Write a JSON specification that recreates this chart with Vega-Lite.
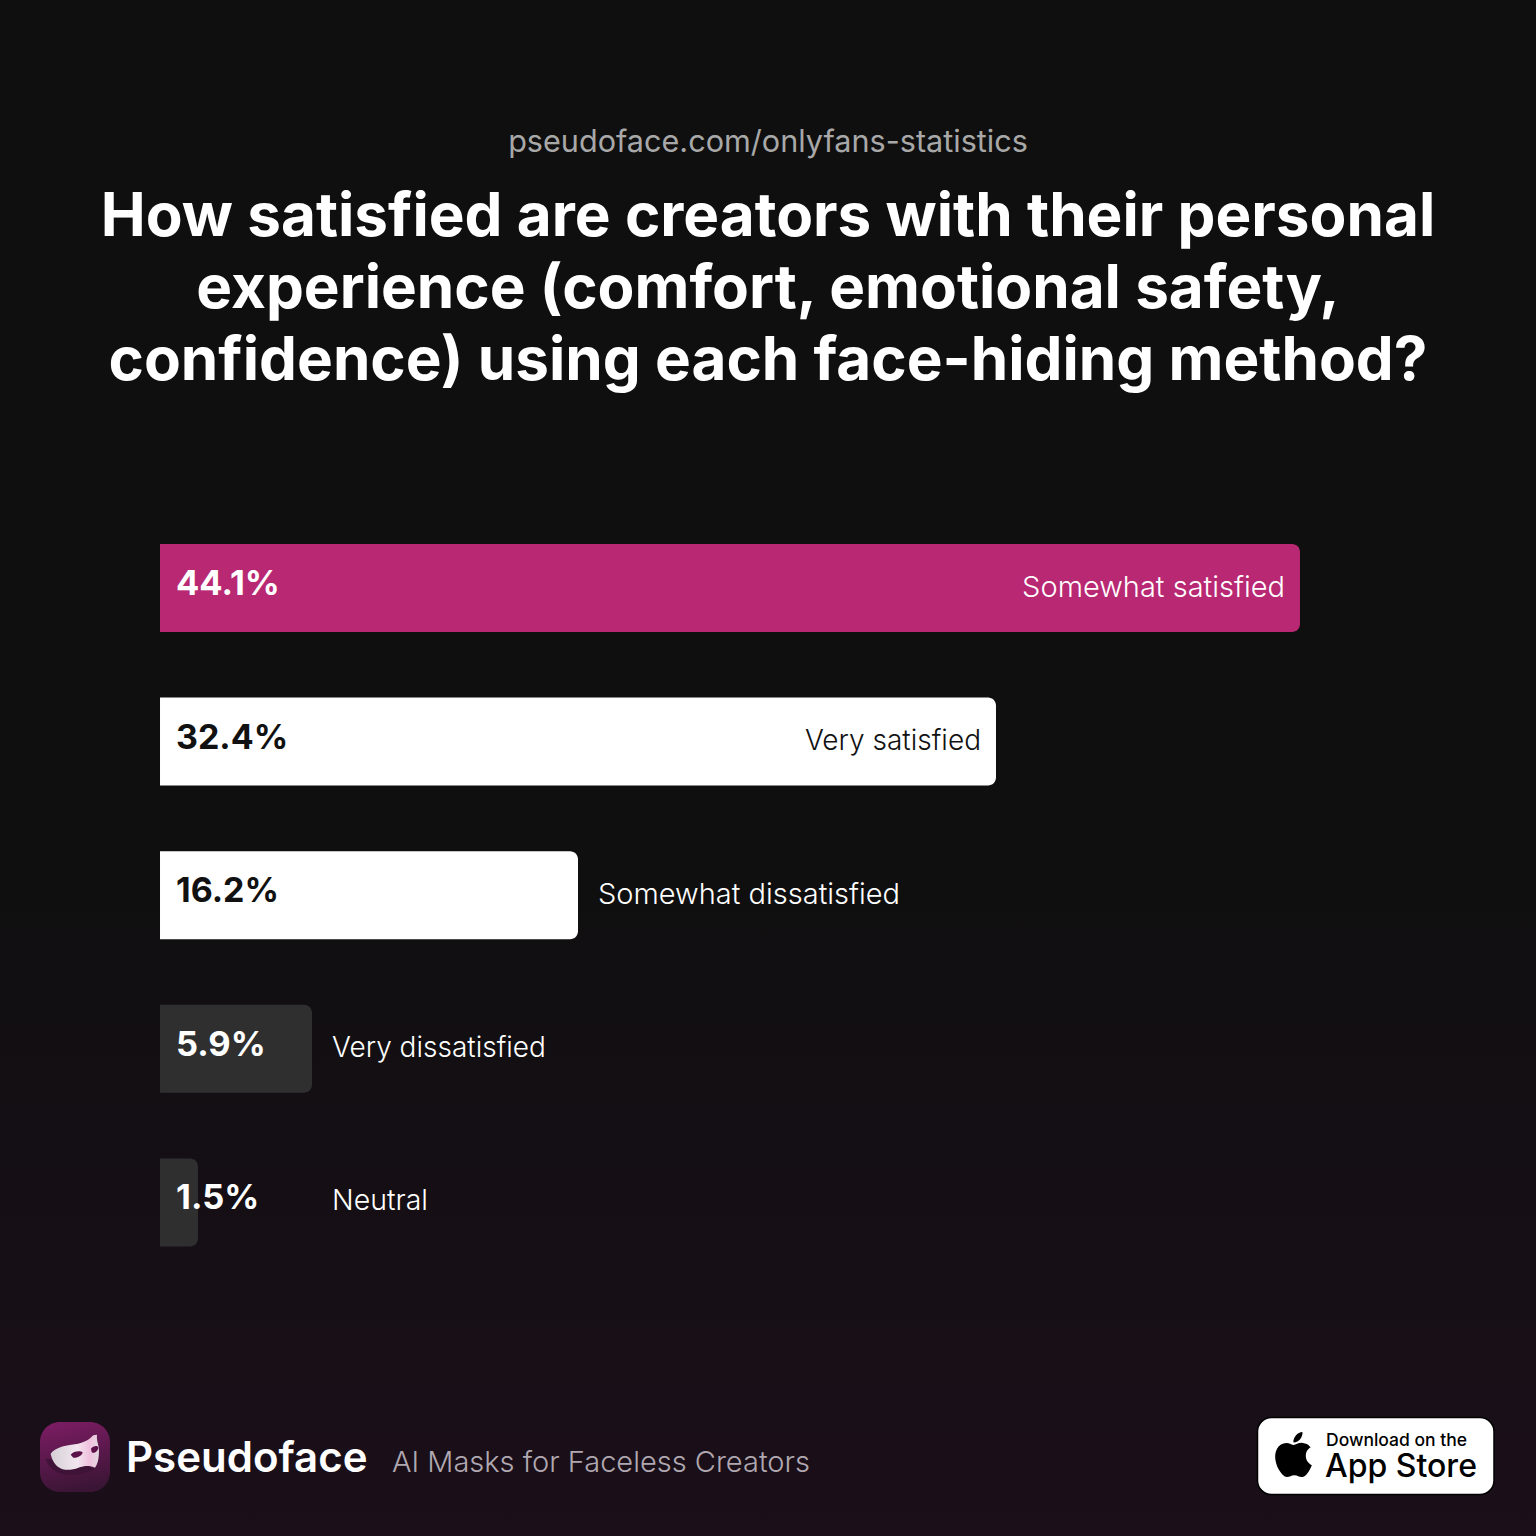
{
"$schema":"https://vega.github.io/schema/vega-lite/v6.json",
"width":1536,"height":1536,"padding":0,"autosize":{"type":"none"},
"background":"#0f0f0f",
"view":{"stroke":null},
"title":{"text":"pseudoface.com/onlyfans-statistics","subtitle":["How satisfied are creators with their personal","experience (comfort, emotional safety,","confidence) using each face-hiding method?"],"anchor":"middle","frame":"group","orient":"top","offset":-416,"baseline":"alphabetic","font":"Inter","fontSize":30.6,"fontWeight":400,"color":"#a8a8a8","subtitleFont":"Inter","subtitleFontSize":60.2,"subtitleFontWeight":700,"subtitleColor":"#ffffff","subtitleLineHeight":72,"subtitlePadding":53},
"resolve":{"scale":{"x":"independent","y":"independent"}},
"layer":[
{"data":{"values":[{"page":"background"}]},
 "mark":{"type":"rect","color":{"gradient":"linear","x1":0,"y1":0,"x2":0,"y2":1,"stops":[{"offset":0,"color":"#0f0f0f"},{"offset":0.55,"color":"#0f0f0f"},{"offset":1,"color":"#1b0f1a"}]}},
 "encoding":{"x":{"datum":0,"type":"quantitative","scale":{"domain":[0,1536],"range":[0,1536]},"axis":null},"x2":{"datum":1536},"y":{"datum":0,"type":"quantitative","scale":{"domain":[0,1536],"range":[0,1536]},"axis":null},"y2":{"datum":1536}}},
{"data":{"values":[
{"answer":"Somewhat satisfied","share":44.1,"shareLabel":"44.1%"},
{"answer":"Very satisfied","share":32.34,"shareLabel":"32.4%"},
{"answer":"Somewhat dissatisfied","share":16.17,"shareLabel":"16.2%"},
{"answer":"Very dissatisfied","share":5.88,"shareLabel":"5.9%"},
{"answer":"Neutral","share":1.47,"shareLabel":"1.5%"}]},
 "encoding":{
 "x":{"field":"share","type":"quantitative","scale":{"domain":[-6.19,53.23],"range":[0,1536],"nice":false,"zero":false},"axis":null},
 "y":{"field":"answer","type":"nominal","sort":null,"scale":{"domain":["Somewhat satisfied","Very satisfied","Somewhat dissatisfied","Very dissatisfied","Neutral"],"range":[544,1246.4],"paddingInner":0.427,"paddingOuter":0},"axis":null}},
 "layer":[
 {"mark":{"type":"bar","cornerRadiusTopRight":8,"cornerRadiusBottomRight":8},
  "encoding":{"x2":{"datum":0},"color":{"field":"answer","type":"nominal","legend":null,"scale":{"domain":["Somewhat satisfied","Very satisfied","Somewhat dissatisfied","Very dissatisfied","Neutral"],"range":["#b92873","#ffffff","#ffffff","#2f2f2f","#2f2f2f"]}}}},
 {"transform":[{"filter":"datum.answer!='Very satisfied' && datum.answer!='Somewhat dissatisfied'"}],
  "mark":{"type":"text","align":"left","baseline":"middle","dx":16,"dy":-3,"font":"Inter","fontSize":34.5,"fontWeight":700,"color":"#ffffff"},
  "encoding":{"x":{"datum":0},"text":{"field":"shareLabel"}}},
 {"transform":[{"filter":"datum.answer=='Very satisfied' || datum.answer=='Somewhat dissatisfied'"}],
  "mark":{"type":"text","align":"left","baseline":"middle","dx":16,"dy":-3,"font":"Inter","fontSize":34,"fontWeight":700,"color":"#111111"},
  "encoding":{"x":{"datum":0},"text":{"field":"shareLabel"}}},
 {"transform":[{"filter":"datum.answer=='Somewhat satisfied'"}],
  "mark":{"type":"text","align":"right","baseline":"middle","dx":-15,"dy":0,"font":"Inter","fontSize":29,"fontWeight":300,"color":"#ffffff"},
  "encoding":{"text":{"field":"answer"}}},
 {"transform":[{"filter":"datum.answer=='Very satisfied'"}],
  "mark":{"type":"text","align":"right","baseline":"middle","dx":-15,"dy":0,"font":"Inter","fontSize":28,"fontWeight":300,"color":"#111111"},
  "encoding":{"text":{"field":"answer"}}},
 {"transform":[{"filter":"datum.answer=='Somewhat dissatisfied'"}],
  "mark":{"type":"text","align":"left","baseline":"middle","dx":20,"dy":0,"font":"Inter","fontSize":29,"fontWeight":300,"color":"#ffffff"},
  "encoding":{"text":{"field":"answer"}}},
 {"transform":[{"filter":"datum.answer=='Very dissatisfied'"}],
  "mark":{"type":"text","align":"left","baseline":"middle","dx":20,"dy":0,"font":"Inter","fontSize":28,"fontWeight":300,"color":"#ffffff"},
  "encoding":{"text":{"field":"answer"}}},
 {"transform":[{"filter":"datum.answer=='Neutral'"}],
  "mark":{"type":"text","align":"left","baseline":"middle","dx":134,"dy":-1,"font":"Inter","fontSize":28.5,"fontWeight":300,"color":"#ffffff"},
  "encoding":{"text":{"field":"answer"}}}
 ]},
{"data":{"values":[{"item":"footer"}]},
 "encoding":{
  "x":{"datum":0,"type":"quantitative","scale":{"domain":[0,1536],"range":[0,1536]},"axis":null},
  "y":{"datum":0,"type":"quantitative","scale":{"domain":[0,1536],"range":[0,1536]},"axis":null}},
 "layer":[
 {"mark":{"type":"rect","cornerRadius":20,"color":{"gradient":"linear","x1":0.3,"y1":0,"x2":0.5,"y2":1,"stops":[{"offset":0,"color":"#7a1c62"},{"offset":1,"color":"#3a1535"}]}},
  "encoding":{"x":{"datum":40},"x2":{"datum":110},"y":{"datum":1422},"y2":{"datum":1492}}},
 {"mark":{"type":"point","filled":true,"opacity":1,"stroke":null,"fill":"#3f1238","size":0.444,"shape":"M32 125 C36 145 60 172 105 174 C130 174 160 165 182 155 L182 145 L60 130 Z"},
  "encoding":{"x":{"datum":35},"y":{"datum":1417}}},
 {"mark":{"type":"point","filled":true,"opacity":1,"stroke":null,"size":0.444,"fill":{"gradient":"linear","x1":0,"y1":0.5,"x2":1,"y2":0.5,"stops":[{"offset":0,"color":"#d5d0d5"},{"offset":0.55,"color":"#f2e6ef"},{"offset":0.8,"color":"#f0c0de"},{"offset":1,"color":"#e3d8e0"}]},"shape":"M47 110 C60 95 80 88 100 85 C125 82 155 78 175 55 L186 53 C184 70 192 85 192 100 C192 120 190 140 180 152 C165 145 150 145 130 152 C110 160 85 162 70 150 C58 142 50 125 47 110 Z"},
  "encoding":{"x":{"datum":35},"y":{"datum":1417}}},
 {"mark":{"type":"point","filled":true,"opacity":1,"stroke":null,"fill":"#5c1248","size":0.444,"shape":"M107 113 C115 103 135 100 143 106 C143 115 125 125 115 122 Z M168 95 C175 85 190 85 190 92 C190 103 175 112 170 105 Z"},
  "encoding":{"x":{"datum":35},"y":{"datum":1417}}},
 {"transform":[{"calculate":"'Pseudoface'","as":"brand"}],"mark":{"type":"text","align":"left","baseline":"alphabetic","font":"Inter","fontSize":42,"fontWeight":600,"color":"#ffffff"},
  "encoding":{"x":{"datum":126},"y":{"datum":1472},"text":{"field":"brand"}}},
 {"transform":[{"calculate":"'AI Masks for Faceless Creators'","as":"tagline"}],"mark":{"type":"text","align":"left","baseline":"alphabetic","font":"Inter","fontSize":29,"fontWeight":300,"color":"#b0a8b0"},
  "encoding":{"x":{"datum":392},"y":{"datum":1472},"text":{"field":"tagline"}}},
 {"mark":{"type":"rect","cornerRadius":14,"color":"#ffffff","stroke":"#000000","strokeWidth":1.5},
  "encoding":{"x":{"datum":1257.5},"x2":{"datum":1494},"y":{"datum":1417.5},"y2":{"datum":1494.5}}},
 {"mark":{"type":"point","filled":true,"opacity":1,"stroke":null,"fill":"#000000","size":14.06,"shape":"M12.152 6.896c-.948 0-2.415-1.078-3.96-1.04-2.04.027-3.91 1.183-4.961 3.014-2.117 3.675-.546 9.103 1.519 12.09 1.013 1.454 2.208 3.09 3.792 3.039 1.52-.065 2.09-.987 3.935-.987 1.831 0 2.35.987 3.96.948 1.637-.026 2.676-1.48 3.676-2.948 1.156-1.688 1.636-3.325 1.662-3.415-.039-.013-3.182-1.221-3.22-4.857-.026-3.04 2.48-4.494 2.597-4.559-1.429-2.09-3.623-2.324-4.39-2.376-2-.156-3.675 1.09-4.61 1.09zM15.53 3.83c.843-1.012 1.4-2.427 1.245-3.83-1.207.052-2.662.805-3.532 1.818-.78.896-1.454 2.338-1.273 3.714 1.338.104 2.715-.688 3.559-1.701"},
  "encoding":{"x":{"datum":1271},"y":{"datum":1432}}},
 {"transform":[{"calculate":"'Download on the'","as":"badgeTop"}],"mark":{"type":"text","align":"left","baseline":"alphabetic","font":"Inter","fontSize":17.5,"fontWeight":500,"color":"#000000"},
  "encoding":{"x":{"datum":1326},"y":{"datum":1446},"text":{"field":"badgeTop"}}},
 {"transform":[{"calculate":"'App Store'","as":"badgeMain"}],"mark":{"type":"text","align":"left","baseline":"alphabetic","font":"Inter","fontSize":32,"fontWeight":500,"color":"#000000"},
  "encoding":{"x":{"datum":1325},"y":{"datum":1477},"text":{"field":"badgeMain"}}}
 ]}
]
}
